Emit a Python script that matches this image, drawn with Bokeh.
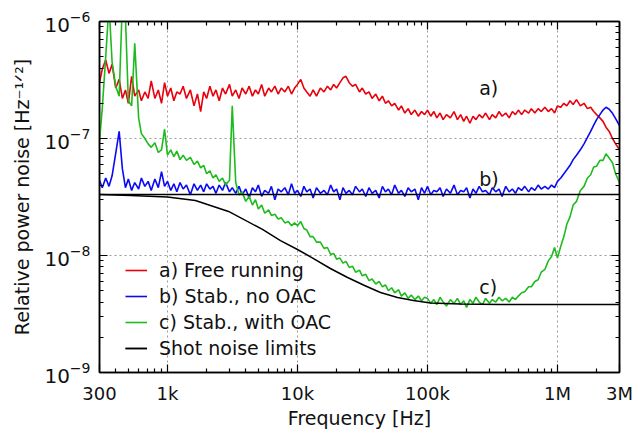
from bokeh.plotting import figure
from bokeh.models import (Range1d, FixedTicker, LogAxis, Legend, LegendItem,
                          CustomJSTickFormatter)
from bokeh.embed import file_html
from bokeh.resources import INLINE
from bokeh.core.properties import value

# ---------------- data ----------------
# frequency grid: Renard R40 mantissas, 300 Hz .. 3 MHz
R40 = [1.00, 1.06, 1.12, 1.18, 1.25, 1.32, 1.40, 1.50, 1.60, 1.70,
       1.80, 1.90, 2.00, 2.12, 2.24, 2.36, 2.50, 2.65, 2.80, 3.00,
       3.15, 3.35, 3.55, 3.75, 4.00, 4.25, 4.50, 4.75, 5.00, 5.30,
       5.60, 6.00, 6.30, 6.70, 7.10, 7.50, 8.00, 8.50, 9.00, 9.50]
freq = ([m * 1e2 for m in R40[19:]] +
        [m * 10.0 ** d for d in (3, 4, 5) for m in R40] +
        [m * 1e6 for m in R40[:20]])

# a) free running, units of 1e-7
red = [
    3.0, 3.9, 4.7, 3.6, 4.3, 2.7, 3.2, 2.2, 2.6, 2.0,
    3.4, 2.3, 2.6, 2.1, 2.5, 2.2, 3.1, 2.2, 2.6, 2.0,
    3.0, 2.3, 2.7, 2.1, 2.5, 2.4, 2.8, 2.2, 2.6, 1.9,
    2.4, 1.7, 2.5, 2.2, 2.8, 2.3, 2.6, 2.1, 2.7, 2.4,
    2.9, 2.3, 2.6, 2.2, 2.7, 2.4, 2.8, 2.3, 2.6, 2.4,
    2.9, 2.3, 2.7, 2.5, 2.8, 2.4, 2.7, 2.5, 2.8, 2.4,
    2.7, 2.9, 3.2, 2.7, 2.5, 2.3, 2.6, 2.3, 2.7, 2.5,
    2.8, 2.6, 2.9, 2.7, 3.0, 3.3, 3.4, 3.0, 2.8, 2.9,
    2.5, 2.7, 2.4, 2.5, 2.2, 2.4, 2.1, 2.3, 2.0, 2.1,
    1.9, 2.0, 1.75, 1.9, 1.65, 1.8, 1.6, 1.75, 1.55, 1.7,
    1.6, 1.75, 1.55, 1.7, 1.5, 1.65, 1.45, 1.6, 1.5, 1.7,
    1.45, 1.6, 1.4, 1.55, 1.35, 1.55, 1.45, 1.6, 1.5, 1.65,
    1.45, 1.6, 1.5, 1.7, 1.55, 1.65, 1.5, 1.7, 1.6, 1.75,
    1.6, 1.75, 1.65, 1.8, 1.65, 1.8, 1.7, 1.85, 1.7, 1.8,
    1.65, 1.9, 1.85, 2.0, 1.9, 2.1, 1.95, 2.15, 1.9, 2.0,
    1.8, 1.85, 1.7, 1.6, 1.5, 1.4, 1.25, 1.15, 1.0, 0.9,
    0.8]

# b) stabilized, no OAC, units of 1e-8
blue = [
    4.4, 3.8, 4.6, 3.9, 4.8, 7.5, 11.5, 5.5, 3.8, 4.5,
    3.6, 4.2, 3.7, 4.6, 3.9, 4.3, 3.6, 4.5, 3.8, 5.2,
    3.9, 4.3, 3.6, 4.1, 3.5, 4.2, 3.7, 4.0, 3.3, 4.1,
    3.6, 4.0, 3.5, 4.1, 3.7, 3.9, 3.4, 4.0, 3.6, 4.2,
    3.5, 3.8, 3.4, 3.9, 3.3, 3.7, 3.1, 3.8, 3.5, 4.0,
    3.2, 3.6, 3.4, 3.9, 3.0, 3.7, 3.5, 3.8, 3.3, 4.1,
    3.4, 3.6, 3.2, 3.9, 3.5, 3.7, 3.1, 3.8, 3.4, 3.6,
    3.3, 4.0, 3.5, 3.7, 3.0, 3.8, 3.4, 3.6, 3.3, 3.9,
    3.5, 3.7, 3.2, 3.8, 3.4, 3.6, 3.1, 3.9, 3.5, 3.7,
    3.3, 4.0, 3.4, 3.6, 3.2, 3.8, 3.5, 3.7, 3.0, 3.8,
    3.4, 3.9, 3.3, 3.6, 3.5, 3.8, 3.2, 3.7, 3.4, 4.0,
    3.3, 3.6, 3.5, 3.8, 3.1, 3.7, 3.4, 3.9, 3.5, 3.6,
    3.3, 3.8, 3.5, 3.7, 3.2, 3.9, 3.5, 3.7, 3.4, 3.8,
    3.6, 3.9, 3.5, 3.8, 3.6, 4.0, 3.7, 3.9, 3.7, 4.0,
    3.8, 4.3, 4.6, 5.0, 5.4, 5.9, 6.6, 7.2, 8.0, 9.0,
    10.2, 11.5, 13.0, 14.5, 16.0, 17.5, 18.5, 17.8, 16.4, 14.8,
    12.9]

# c) stabilized, with OAC, units of 1e-8
green = [
    9.5, 18, 50, 140, 45, 28, 23, 150, 110, 21,
    19, 65, 15, 11, 10, 9.0, 8.4, 9.2, 7.6, 8.0,
    12, 7.2, 8.0, 7.0, 7.8, 6.6, 7.2, 6.5, 6.9, 6.0,
    6.4, 5.6, 5.9, 5.0, 5.3, 4.6, 4.9, 4.3, 4.6, 4.0,
    4.4, 19, 4.2, 3.3, 3.5, 2.9, 3.2, 2.7, 3.0, 2.5,
    2.7, 2.3, 2.45, 2.2, 2.25, 2.05, 2.1, 1.9, 1.95, 1.8,
    1.9, 1.8, 1.95, 1.7, 1.65, 1.45, 1.45, 1.3, 1.3, 1.15,
    1.17, 1.02, 1.04, 0.93, 0.95, 0.86, 0.89, 0.79, 0.81, 0.72,
    0.75, 0.67, 0.69, 0.61, 0.63, 0.57, 0.6, 0.54, 0.56, 0.5,
    0.53, 0.48, 0.51, 0.45, 0.48, 0.43, 0.46, 0.42, 0.45, 0.41,
    0.44, 0.43, 0.39, 0.42, 0.38, 0.44, 0.40, 0.37, 0.42, 0.39,
    0.43, 0.38, 0.41, 0.36, 0.42, 0.39, 0.44, 0.40, 0.38, 0.43,
    0.39, 0.42, 0.40, 0.44, 0.41, 0.43, 0.40, 0.44, 0.42, 0.45,
    0.48, 0.49, 0.54, 0.54, 0.6, 0.62, 0.72, 0.76, 0.9, 0.98,
    1.17, 0.95, 1.2, 1.45, 1.85, 2.15, 2.7, 2.9, 3.6, 3.9,
    4.6, 4.9, 5.7, 5.8, 6.5, 6.5, 7.4, 6.8, 6.2, 5.0,
    4.2]

# shot noise limits, units of 1e-9
shot_flat_f = [300, 3e6]
shot_flat = [33.2, 33.2]
shot_curve_f = [300, 520, 1000, 1640, 2950, 5380, 7400, 10000, 13300, 17900,
                24300, 32800, 43500, 58800, 78000, 105500, 179000, 365000, 3e6]
shot_curve = [33.2, 32.6, 31.6, 29.5, 23.8, 16.7, 13.4, 11.25, 9.42, 7.74,
              6.49, 5.54, 4.83, 4.38, 4.12, 3.92, 3.85, 3.81, 3.81]

x_tick_vals = [300.0, 1e3, 1e4, 1e5, 1e6, 3e6]
x_tick_labels = ["300", "1k", "10k", "100k", "1M", "3M"]
y_tick_vals = [1e-9, 1e-8, 1e-7, 1e-6]

legend_labels = ["a) Free running", "b) Stab., no OAC",
                 "c) Stab., with OAC", "Shot noise limits"]
ann_text = ["a)", "b)", "c)"]
ann_x = [2.5e5, 2.5e5, 2.5e5]
ann_y = [2.68e-7, 4.55e-8, 5.33e-9]

assert len(freq) == len(red) == len(blue) == len(green) == 161

# ---------------- figure ----------------
FONT = "DejaVu Sans"
p = figure(width=634, height=431, x_axis_type="log", y_axis_type="log",
           x_range=Range1d(300, 3e6), y_range=Range1d(1e-9, 1e-6),
           output_backend="svg", toolbar_location=None,
           min_border_left=99, min_border_top=21, min_border_right=15,
           min_border_bottom=59)
p.background_fill_color = "white"
p.border_fill_color = "white"
p.outline_line_color = "black"
p.outline_line_width = 1.5

x_minor = [k * 10.0 ** e for e in (2, 3, 4, 5, 6) for k in range(2, 10)
           if 300 < k * 10.0 ** e < 3e6]
y_minor = [k * 10.0 ** e for e in (-9, -8, -7) for k in range(2, 10)]
xt = FixedTicker(ticks=x_tick_vals, minor_ticks=x_minor)
yt = FixedTicker(ticks=y_tick_vals, minor_ticks=y_minor)

def style_axis(ax, ticker):
    ax.ticker = ticker
    ax.axis_line_color = "black"
    ax.axis_line_width = 1.5
    ax.major_tick_in = 8
    ax.major_tick_out = 0
    ax.minor_tick_in = 4
    ax.minor_tick_out = 0
    ax.major_tick_line_color = "black"
    ax.minor_tick_line_color = "black"
    ax.major_tick_line_width = 1.2
    ax.minor_tick_line_width = 1.2
    ax.major_label_text_font = FONT
    ax.major_label_text_font_size = "18px"
    ax.major_label_text_color = "#111111"
    ax.axis_label_text_font = FONT
    ax.axis_label_text_font_size = "19px"
    ax.axis_label_text_font_style = "normal"
    ax.axis_label_text_color = "#111111"

xa = p.xaxis[0]
style_axis(xa, xt)
xa.major_label_overrides = dict(zip(x_tick_vals, x_tick_labels))
xa.major_label_standoff = 10
xa.axis_label = "Frequency [Hz]"
xa.axis_label_standoff = 0

ya = p.yaxis[0]
style_axis(ya, yt)
ya.major_label_text_font_size = "20px"
ya.major_label_standoff = 9
ya.axis_label = "Relative power noise [Hz\u207b\u00b9\u141f\u00b2]"
ya.axis_label_standoff = 8

blank = "return ''"
top = LogAxis()
style_axis(top, FixedTicker(ticks=x_tick_vals, minor_ticks=x_minor))
top.formatter = CustomJSTickFormatter(code=blank)
top.major_label_text_font_size = "0px"
top.major_label_standoff = 0
p.add_layout(top, "above")

right = LogAxis()
style_axis(right, FixedTicker(ticks=y_tick_vals, minor_ticks=y_minor))
right.formatter = CustomJSTickFormatter(code=blank)
right.major_label_text_font_size = "0px"
right.major_label_standoff = 0
p.add_layout(right, "right")

p.xgrid.ticker = FixedTicker(ticks=[1e3, 1e4, 1e5, 1e6])
p.ygrid.ticker = FixedTicker(ticks=[1e-8, 1e-7])
for g in (p.xgrid[0], p.ygrid[0]):
    g.grid_line_color = "#9a9a9a"
    g.grid_line_dash = "2 3"
    g.grid_line_width = 1

LW = 1.6
r_red = p.line(freq, [v * 1e-7 for v in red], line_color="#e8000b", line_width=LW)
r_blue = p.line(freq, [v * 1e-8 for v in blue], line_color="#0a0af5", line_width=LW)
r_green = p.line(freq, [v * 1e-8 for v in green], line_color="#1ebb1e", line_width=LW)
r_s1 = p.line(shot_flat_f, [v * 1e-9 for v in shot_flat], line_color="black", line_width=1.5)
r_s2 = p.line(shot_curve_f, [v * 1e-9 for v in shot_curve], line_color="black", line_width=1.5)

p.text(x=ann_x, y=ann_y, text=ann_text, text_font=value(FONT),
       text_font_size="19px", text_align="left", text_baseline="middle",
       text_color="#111111")

legend = Legend(items=[
    LegendItem(label=legend_labels[0], renderers=[r_red]),
    LegendItem(label=legend_labels[1], renderers=[r_blue]),
    LegendItem(label=legend_labels[2], renderers=[r_green]),
    LegendItem(label=legend_labels[3], renderers=[r_s1, r_s2]),
], location=(26, 11))
legend.padding = 0
legend.margin = 0
legend.spacing = 0
legend.glyph_width = 22
legend.glyph_height = 26
legend.label_height = 26
legend.label_standoff = 12
legend.label_text_font = FONT
legend.label_text_font_size = "19px"
legend.label_text_color = "#111111"
legend.background_fill_alpha = 0
legend.border_line_alpha = 0
p.add_layout(legend, "center")

open("out.html", "w").write(file_html(p, INLINE))
